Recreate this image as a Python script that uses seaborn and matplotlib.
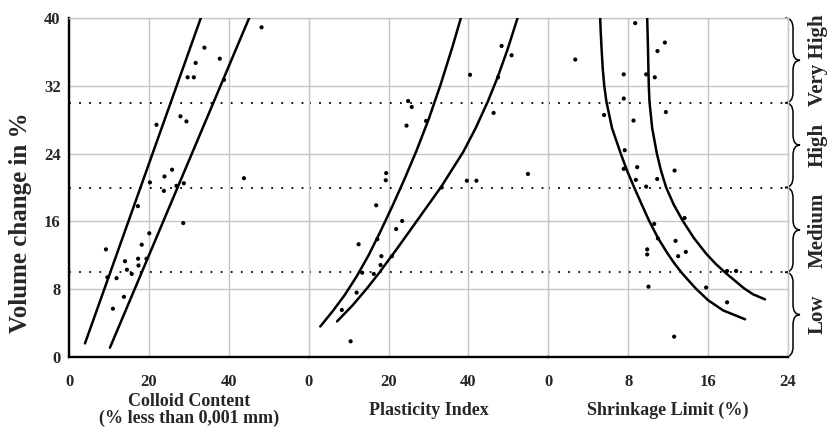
import matplotlib
matplotlib.use("Agg")
import matplotlib.pyplot as plt
import matplotlib.transforms as mtransforms
from matplotlib.path import Path
from matplotlib.patches import PathPatch
import seaborn as sns

# ---------------- data ----------------
colloid_x = [48.2, 33.9, 37.75, 31.7, 29.7, 31.25, 38.8, 21.9, 27.9, 29.4, 25.8, 23.9, 20.25, 23.75, 26.9, 28.75,
             43.8, 17.25, 28.6, 20.1, 18.2, 9.25, 14.0, 17.3, 19.4, 17.4, 14.5, 15.7, 9.6, 11.9, 13.75, 11.0]
colloid_y = [38.9, 36.5, 35.2, 34.7, 33.0, 33.0, 32.7, 27.4, 28.4, 27.8, 22.1, 21.3, 20.6, 19.6, 20.2, 20.5,
             21.1, 17.8, 15.8, 14.6, 13.25, 12.7, 11.3, 11.6, 11.6, 10.8, 10.3, 9.8, 9.4, 9.3, 7.1, 5.7]
colloid_left_x = [4.0, 33.0]
colloid_left_y = [1.6, 40.0]
colloid_right_x = [10.25, 45.1]
colloid_right_y = [1.1, 40.0]

pi_x = [48.3, 50.8, 40.4, 47.4, 24.9, 25.8, 46.3, 24.5, 29.4, 19.4, 19.3, 39.6, 42.0, 54.9, 33.3, 16.9,
        23.4, 21.9, 12.5, 17.2, 18.2, 20.85, 18.0, 13.4, 16.3, 12.0, 8.3, 10.5]
pi_y = [36.7, 35.6, 33.3, 33.0, 30.2, 29.5, 28.8, 27.3, 27.85, 21.7, 20.85, 20.8, 20.8, 21.6, 20.0, 17.9,
        16.05, 15.1, 13.3, 13.9, 11.9, 11.9, 10.85, 9.95, 9.8, 7.6, 5.55, 1.85]
pi_left_x = [2.9, 6.0, 9.0, 12.0, 15.0, 18.0, 21.0, 24.0, 27.0, 30.0, 33.0, 36.0, 38.1]
pi_left_y = [3.6, 5.4, 7.3, 9.5, 12.0, 14.85, 17.85, 21.0, 24.35, 28.0, 32.1, 36.6, 40.0]
pi_right_x = [7.1, 11.0, 14.6, 17.6, 22.3, 27.0, 33.2, 38.7, 41.8, 44.9, 47.3, 49.8, 52.3]
pi_right_y = [4.2, 6.1, 8.1, 9.9, 12.9, 16.0, 20.1, 24.2, 27.0, 30.2, 33.0, 36.3, 40.0]

sl_x = [8.7, 11.67, 10.93, 2.7, 7.55, 9.8, 10.66, 7.55, 11.77, 5.58, 8.53, 7.65, 8.9, 12.64, 7.55, 8.76,
        10.9, 9.8, 13.64, 10.6, 10.97, 12.74, 9.9, 9.9, 13.77, 13.0, 17.9, 18.8, 10.03, 15.8, 17.9, 12.6]
sl_y = [39.4, 37.1, 36.1, 35.1, 33.35, 33.35, 33.0, 30.5, 28.9, 28.55, 27.9, 24.4, 22.4, 22.0, 22.2, 20.9,
        21.0, 20.1, 16.4, 15.7, 14.0, 13.7, 12.7, 12.1, 12.4, 11.9, 10.15, 10.15, 8.3, 8.2, 6.45, 2.4]
sl_left_x = [5.19, 5.26, 5.33, 5.45, 5.6, 5.82, 6.38, 7.25, 7.88, 8.6, 9.35, 10.1, 11.0, 11.95, 12.65,
             13.4, 14.75, 16.0, 17.5, 19.7]
sl_left_y = [40.0, 38.0, 36.4, 34.0, 32.0, 30.1, 27.0, 24.0, 22.0, 20.0, 18.0, 16.05, 14.0, 12.2, 11.0,
             9.87, 8.1, 6.7, 5.5, 4.45]
sl_right_x = [9.9, 9.98, 10.02, 10.06, 10.13, 10.4, 10.87, 11.28, 11.8, 12.55, 13.47, 14.6, 15.8, 16.75,
              17.8, 19.6, 20.5, 21.7]
sl_right_y = [40.0, 36.4, 34.0, 32.0, 30.1, 27.0, 24.0, 22.0, 20.0, 18.0, 16.05, 14.0, 12.2, 11.0,
              9.87, 8.1, 7.4, 6.8]

x_labels = ["Colloid Content\n(% less than 0,001 mm)", "Plasticity Index", "Shrinkage Limit (%)"]
x_limits = [(0, 60), (0, 60), (0, 24)]
x_ticks = [[0, 20, 40], [0, 20, 40], [0, 8, 16, 24]]
y_ticks = [0, 8, 16, 24, 32, 40]
class_bounds = [0, 10, 20, 30, 40]
class_names = ["Low", "Medium", "High", "Very High"]

# ---------------- style ----------------
sns.set_style("white")
plt.rcParams["font.family"] = ["Liberation Serif", "DejaVu Serif"]
plt.rcParams["font.weight"] = "bold"
plt.rcParams["axes.labelweight"] = "bold"

GRID = "#c6c6c6"
fig, axes = plt.subplots(1, 3, figsize=(8.3, 4.32), dpi=100, sharey=True)
fig.subplots_adjust(left=69 / 830, right=788 / 830, bottom=75 / 432, top=1 - 18 / 432, wspace=0)

panels = [
    (colloid_x, colloid_y, [(colloid_left_x, colloid_left_y), (colloid_right_x, colloid_right_y)]),
    (pi_x, pi_y, [(pi_left_x, pi_left_y), (pi_right_x, pi_right_y)]),
    (sl_x, sl_y, [(sl_left_x, sl_left_y), (sl_right_x, sl_right_y)]),
]

for i, (ax, (px, py, curves)) in enumerate(zip(axes, panels)):
    ax.set_xlim(*x_limits[i])
    ax.set_ylim(0, 40)
    ax.set_xticks(x_ticks[i])
    ax.set_xticklabels([str(t) for t in x_ticks[i]])
    ax.set_yticks(y_ticks)
    ax.grid(True, color=GRID, lw=1.0)
    ax.set_axisbelow(True)
    for yv in class_bounds[1:-1]:
        ax.axhline(yv, color="black", lw=1.3, ls=(0, (1.0, 4.6)), zorder=1.5)
    for cx, cy in curves:
        line = sns.lineplot(x=cx, y=cy, sort=False, estimator=None, errorbar=None,
                            color="black", lw=1.8, ax=ax, zorder=3)
    for ln in ax.get_lines():
        ln.set_solid_joinstyle("round")
    sns.scatterplot(x=px, y=py, color="black", s=9, edgecolor="none", ax=ax, zorder=4)
    ax.tick_params(axis="both", length=0, labelsize=12)
    ax.tick_params(axis="x", pad=12)
    ax.tick_params(axis="y", pad=6)
    ax.set_xlabel(x_labels[i], fontsize=13, linespacing=1.05)
    ax.xaxis.set_label_coords(0.5, (357 - 410) / 339)
    ax.xaxis.label.set_va("center")
    ax.set_ylabel("")
    for s in ["top", "right", "left"]:
        ax.spines[s].set_color(GRID)
        ax.spines[s].set_linewidth(1.0)
    ax.spines["bottom"].set_color("black")
    ax.spines["bottom"].set_linewidth(1.7)
    if i < 2:
        ax.spines["right"].set_visible(False)
    if i > 0:
        ax.tick_params(axis="y", labelleft=False)

axes[0].spines["left"].set_color("black")
axes[0].spines["left"].set_linewidth(1.7)
axes[0].set_ylabel("Volume change in %", fontsize=18)
axes[0].yaxis.set_label_coords((20 - 69) / 240, (357 - 223) / 339)
axes[0].yaxis.label.set_va("center")

# ---------------- braces ----------------
ax3 = axes[2]
trans = mtransforms.blended_transform_factory(ax3.transAxes, ax3.transData)
w = 239.0
xa = (785 - 549) / w
xm = (793 - 549) / w
xb = (800 - 549) / w
r = 1.2
for y0, y1, name in zip(class_bounds[:-1], class_bounds[1:], class_names):
    ym = (y0 + y1) / 2
    verts = [(xa, y1), (xm, y1), (xm, y1 - r),
             (xm, ym + r),
             (xm, ym), (xb, ym),
             (xm, ym), (xm, ym - r),
             (xm, y0 + r),
             (xm, y0), (xa, y0)]
    codes = [Path.MOVETO, Path.CURVE3, Path.CURVE3,
             Path.LINETO,
             Path.CURVE3, Path.CURVE3,
             Path.CURVE3, Path.CURVE3,
             Path.LINETO,
             Path.CURVE3, Path.CURVE3]
    patch = PathPatch(Path(verts, codes), transform=trans, fill=False,
                      edgecolor="black", lw=1.1, clip_on=False)
    ax3.add_patch(patch)
    ax3.text((818 - 549) / w, ym, name, transform=trans, rotation=90,
             ha="center", va="center", fontsize=15, fontweight="bold", clip_on=False)

fig.savefig("out.png", dpi=100)
